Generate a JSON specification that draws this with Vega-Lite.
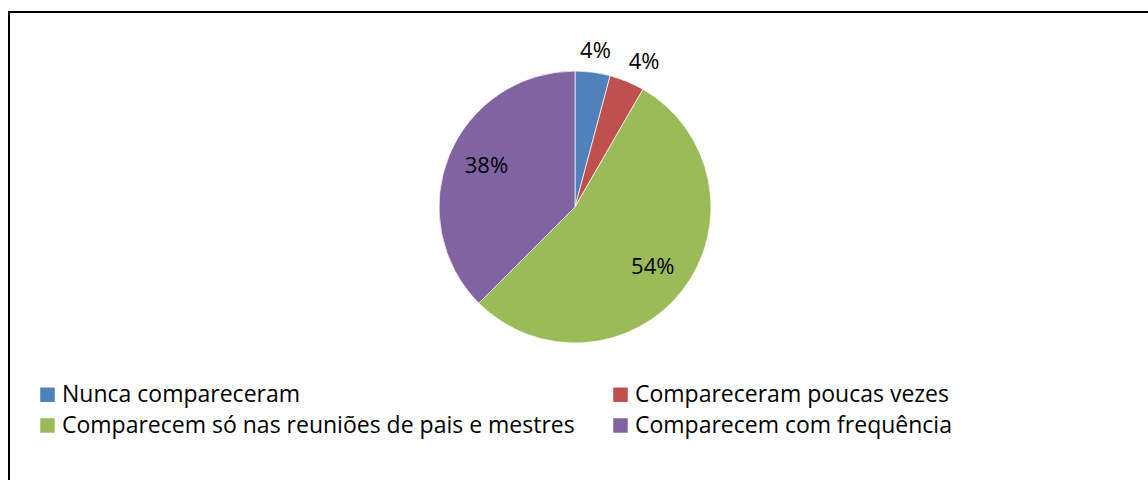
{
  "$schema": "https://vega.github.io/schema/vega-lite/v6.json",
  "width": 1150,
  "height": 480,
  "padding": {"left": 9, "top": 12, "right": 0, "bottom": 0},
  "background": "white",
  "view": {"stroke": "black", "strokeWidth": 2},
  "config": {
    "view": {"stroke": "black", "strokeWidth": 2},
    "font": "Open Sans"
  },
  "data": {
    "values": [
      {"categoria": "Nunca compareceram", "n": 1, "ordem": 1, "rotulo": "4%"},
      {"categoria": "Compareceram poucas vezes", "n": 1, "ordem": 2, "rotulo": "4%"},
      {"categoria": "Comparecem só nas reuniões de pais e mestres", "n": 13, "ordem": 3, "rotulo": "54%"},
      {"categoria": "Comparecem com frequência", "n": 9, "ordem": 4, "rotulo": "38%"}
    ]
  },
  "encoding": {
    "theta": {"field": "n", "type": "quantitative", "stack": true},
    "order": {"field": "ordem", "type": "quantitative"}
  },
  "layer": [
    {
      "mark": {"type": "arc", "outerRadius": 136, "x": 566, "y": 195, "stroke": "white", "strokeWidth": 0.7},
      "encoding": {
        "color": {
          "field": "categoria",
          "type": "nominal",
          "scale": {
            "domain": ["Nunca compareceram", "Comparecem só nas reuniões de pais e mestres", "Compareceram poucas vezes", "Comparecem com frequência"],
            "range": ["#4F81BD", "#9BBB59", "#C0504D", "#8064A2"]
          },
          "legend": {
            "title": null,
            "orient": "none",
            "legendX": 27,
            "legendY": 371,
            "columns": 2,
            "columnPadding": 34,
            "rowPadding": 7,
            "symbolType": "square",
            "symbolSize": 210,
            "symbolStrokeWidth": 0,
            "labelFontSize": 23,
            "labelFont": "Open Sans",
            "labelColor": "black",
            "labelOffset": 3,
            "labelLimit": 0
          }
        }
      }
    },
    {
      "mark": {"type": "text", "x": 566, "y": 195, "radius": {"expr": "datum.n < 2 ? 157 : 98"}, "dx": {"expr": "datum.ordem == 2 ? 9 : (datum.ordem == 4 ? 2 : 0)"}, "dy": {"expr": "datum.ordem == 4 ? -3 : 0"}, "fontSize": 22, "font": "Open Sans", "color": "black"},
      "encoding": {
        "text": {"field": "rotulo", "type": "nominal"}
      }
    }
  ]
}
